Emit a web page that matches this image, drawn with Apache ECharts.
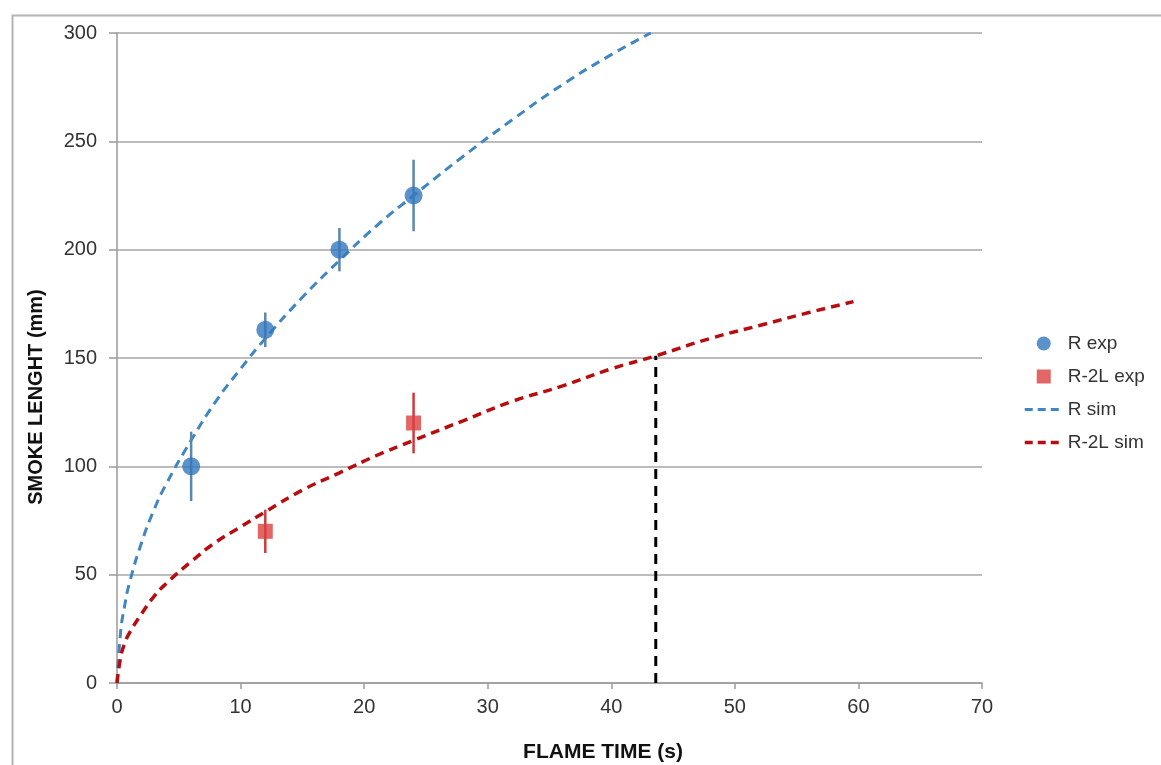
<!DOCTYPE html>
<html>
<head>
<meta charset="utf-8">
<title>Smoke length vs flame time</title>
<script src="https://cdn.jsdelivr.net/npm/echarts@6/dist/echarts.min.js"></script>
<style>
    html, body { margin: 0; padding: 0; background: #fff; }
    #main { width: 1161px; height: 765px; }
</style>
</head>
<body>
<div id="main"></div>
<script>
// experimental points (mm) with half width of the error bars
const rExpX = [6, 12, 18, 24];
const rExpY = [100, 163, 200, 225];
const rExpErr = [16, 8, 10, 16.5];

const r2lExpX = [12, 24];
const r2lExpY = [70, 120];
const r2lExpErr = [10, 14];

// simulated curves
const rSimX = [0, 0.3, 0.6, 1, 2, 3, 4, 6, 8, 10, 12, 15, 18, 21, 24, 28, 32, 36, 40, 43.2];
const rSimY = [0, 24, 35, 46, 65, 80, 92, 112, 130, 145, 159, 178, 195, 211, 225, 243, 260, 276, 290, 300];

const r2lSimX = [0, 0.3, 0.6, 1, 2, 3, 4, 6, 8, 10, 12, 15, 18, 21, 24, 28, 32, 36, 40, 43.6, 48, 52, 56, 59.6];
const r2lSimY = [0, 12, 18, 23, 32, 40, 46, 56, 65, 72, 79, 89, 97, 105, 112, 121, 130, 137, 145, 151, 159, 165, 171, 176];

// black dashed drop line
const dropX = 43.6;
const dropY = 151;

const xTicks = [0, 10, 20, 30, 40, 50, 60, 70];
const yTicks = [0, 50, 100, 150, 200, 250, 300];

function pairs(xs, ys) {
    let out = [];
    for (let i in xs) {
        out.push([xs[i], ys[i]]);
    }
    return out;
}

function errRows(xs, ys, err) {
    let out = [];
    for (let i in xs) {
        out.push([xs[i], ys[i] - err[i], ys[i] + err[i]]);
    }
    return out;
}

//draws a plain vertical line for each error bar
function errorBar(color) {
    return function (params, api) {
        let p1 = api.coord([api.value(0), api.value(1)]);
        let p2 = api.coord([api.value(0), api.value(2)]);
        return {
            type: 'line',
            shape: { x1: p1[0], y1: p1[1], x2: p2[0], y2: p2[1] },
            style: { stroke: color, lineWidth: 2.5 }
        };
    };
}

const FONT = '"Liberation Sans", Arial, sans-serif';
// legend icons for the dashed curves: line only, no dot
const noDot = { opacity: 0, color: 'transparent', borderWidth: 0 };

let optionObj = {
    animation: false,
    backgroundColor: '#fff',
    textStyle: { fontFamily: FONT },
    grid: { left: 117, right: 179, top: 33, bottom: 82 },
    legend: {
        orient: 'vertical',
        left: 1018,
        top: 329,
        itemWidth: 38,
        itemHeight: 14,
        itemGap: 14,
        textStyle: { fontSize: 19, color: '#333', fontFamily: FONT },
        data: [
            { name: 'R exp', icon: 'circle' },
            { name: 'R-2L exp', icon: 'path://M0,0L10,0L10,10L0,10Z' },
            { name: 'R sim', itemStyle: noDot, lineStyle: { width: 3, type: [8, 5] } },
            { name: 'R-2L sim', itemStyle: noDot, lineStyle: { width: 3.5, type: [8, 5] } }
        ]
    },
    xAxis: {
        type: 'value',
        min: xTicks[0],
        max: xTicks[xTicks.length - 1],
        interval: 10,
        splitLine: { show: false },
        axisLine: { onZero: false, lineStyle: { color: '#9a9a9a', width: 1.5 } },
        axisTick: { show: true, length: 6, lineStyle: { color: '#9a9a9a', width: 1.5 } },
        axisLabel: { fontSize: 20, color: '#333', margin: 14, fontFamily: FONT }
    },
    yAxis: {
        type: 'value',
        min: yTicks[0],
        max: yTicks[yTicks.length - 1],
        interval: 50,
        axisLine: { show: true, lineStyle: { color: '#9a9a9a', width: 1.5 } },
        axisTick: { show: true, length: 8, lineStyle: { color: '#9a9a9a', width: 1.5 } },
        axisLabel: { fontSize: 20, color: '#333', margin: 20, fontFamily: FONT },
        splitLine: { lineStyle: { color: '#a6a6a6', width: 1.5 } }
    },
    graphic: [
        {
            type: 'rect',
            left: 10,
            top: 13,
            shape: { width: 1200, height: 800 },
            style: { fill: 'none', stroke: '#b3b3b3', lineWidth: 2 },
            silent: true
        },
        {
            type: 'text',
            x: 36,
            y: 397,
            rotation: Math.PI / 2,
            style: {
                text: 'SMOKE LENGHT (mm)',
                font: 'bold 20px ' + FONT,
                fill: '#111',
                align: 'center',
                verticalAlign: 'middle'
            }
        },
        {
            type: 'text',
            x: 603,
            y: 752,
            style: {
                text: 'FLAME TIME (s)',
                font: 'bold 21px ' + FONT,
                fill: '#111',
                align: 'center',
                verticalAlign: 'middle'
            }
        }
    ],
    series: [
        {
            name: 'R sim',
            type: 'line',
            data: pairs(rSimX, rSimY),
            smooth: 0.5,
            symbol: 'none',
            color: '#3f86c2',
            lineStyle: { color: '#3f86c2', width: 3, type: [9, 6] },
            z: 2
        },
        {
            name: 'R-2L sim',
            type: 'line',
            data: pairs(r2lSimX, r2lSimY),
            smooth: 0.5,
            symbol: 'none',
            color: '#b80d10',
            lineStyle: { color: '#b80d10', width: 3.5, type: [9, 6] },
            z: 2
        },
        {
            name: 'drop',
            type: 'line',
            data: [[dropX, 0], [dropX, dropY]],
            symbol: 'none',
            lineStyle: { color: '#000', width: 3, type: [10, 7] },
            z: 2
        },
        {
            name: 'R err',
            type: 'custom',
            renderItem: errorBar('#5c86ad'),
            encode: { x: 0, y: [1, 2] },
            data: errRows(rExpX, rExpY, rExpErr),
            z: 3
        },
        {
            name: 'R-2L err',
            type: 'custom',
            renderItem: errorBar('#d0393b'),
            encode: { x: 0, y: [1, 2] },
            data: errRows(r2lExpX, r2lExpY, r2lExpErr),
            z: 3
        },
        {
            name: 'R exp',
            type: 'scatter',
            data: pairs(rExpX, rExpY),
            symbol: 'circle',
            symbolSize: 18,
            color: '#3277bd',
            z: 4
        },
        {
            name: 'R-2L exp',
            type: 'scatter',
            data: pairs(r2lExpX, r2lExpY),
            symbol: 'rect',
            symbolSize: 15,
            color: '#d9403f',
            z: 4
        }
    ]
};

let chartDom = document.getElementById('main');
let myChart = echarts.init(chartDom);
myChart.setOption(optionObj);
</script>
</body>
</html>
